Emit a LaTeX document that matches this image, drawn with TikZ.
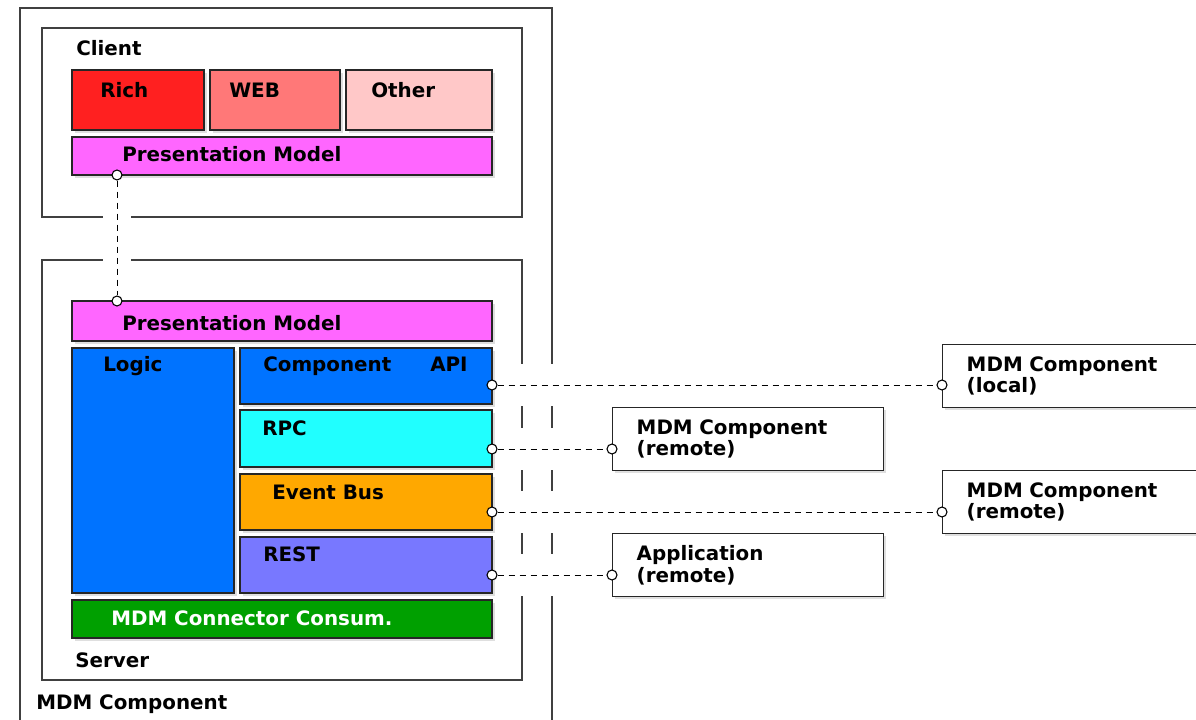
\documentclass[tikz,border=0pt]{standalone}
\usepackage{fontspec}
\setmainfont{DejaVu Sans}
\usetikzlibrary{positioning, fit, shadows}

\definecolor{richred}{HTML}{FF2020}
\definecolor{webred}{HTML}{FF7878}
\definecolor{otherpink}{HTML}{FFC8C8}
\definecolor{presmagenta}{HTML}{FF66FF}
\definecolor{logicblue}{HTML}{0073FF}
\definecolor{rpccyan}{HTML}{20FFFF}
\definecolor{busorange}{HTML}{FFA800}
\definecolor{restviolet}{HTML}{7878FF}
\definecolor{consumgreen}{HTML}{00A000}

\pgfdeclarelayer{background}
\pgfsetlayers{background,main}

\tikzset{
    frame/.style={draw=black!75, line width=1pt, inner sep=0pt},
    part/.style={draw=black!85, line width=1.1pt, inner sep=0pt,
        drop shadow={shadow xshift=2pt, shadow yshift=-2pt, opacity=0.25}},
    ext/.style={draw=black!85, line width=1.1pt, anchor=north west, fill=white,
        minimum height=47.25pt, text width=167.25pt, inner xsep=18pt, align=left,
        font=\bfseries\fontsize{14.9}{16}\selectfont,
        drop shadow={shadow xshift=2pt, shadow yshift=-2pt, opacity=0.25}},
    txt/.style={anchor=base west, inner sep=0pt, font=\bfseries\fontsize{14.9}{16}\selectfont},
    port/.style={circle, draw, fill=white, inner sep=0pt, minimum size=7.5pt, line width=0.8pt},
    link/.style={dash pattern=on 4.5pt off 3.75pt, line width=0.75pt},
    halo/.style={draw=white, line width=#1}
}

\begin{document}
\begin{tikzpicture}[x=0.75pt,y=0.75pt,yscale=-1,xscale=1]
        \useasboundingbox (0,0) rectangle (1196,720);

        % Client parts
        \node[part, fill=richred, fit={(72,70) (204,130)}] (rich) {};
        \node[part, fill=webred, fit={(210,70) (340,130)}] (web) {};
        \node[part, fill=otherpink, fit={(346,70) (492,130)}] (other) {};
        \node[part, fill=presmagenta, fit={(72,137) (492,175)}] (pmclient) {};

        % Server parts
        \node[part, fill=presmagenta, fit={(72,301) (492,341)}] (pmserver) {};
        \node[part, fill=logicblue, fit={(72,348) (234,593)}] (logic) {};
        \node[part, fill=logicblue, fit={(240,348) (492,404)}] (api) {};
        \node[part, fill=rpccyan, fit={(240,410) (492,467)}] (rpc) {};
        \node[part, fill=busorange, fit={(240,474) (492,530)}] (bus) {};
        \node[part, fill=restviolet, fit={(240,537) (492,593)}] (rest) {};
        \node[part, fill=consumgreen, fit={(72,600) (492,638)}] (consum) {};

        % Outside components
        \node[ext] (local) at (942,344) {MDM Component\\(local)};
        \node[ext] (remotea) at (612,407) {MDM Component\\(remote)};
        \node[ext] (remoteb) at (942,470) {MDM Component\\(remote)};
        \node[ext] (app) at (612,533) {Application\\(remote)};

        % Labels
        \node[txt] (tclient) at (76,56) {Client};
        \node[txt] (trich) at (100,98) {Rich};
        \node[txt] (tweb) at (229,98) {WEB};
        \node[txt] (tother) at (371,98) {Other};
        \node[txt] (tpmclient) at (122,162) {Presentation Model};
        \node[txt] (tpmserver) at (122,330) {Presentation Model};
        \node[txt] (tlogic) at (103,372) {Logic};
        \node[txt] (tcomp) at (263,372) {Component};
        \node[txt] (tapi) at (430,372) {API};
        \node[txt] (trpc) at (262,435) {RPC};
        \node[txt] (tbus) at (272,499) {Event Bus};
        \node[txt] (trest) at (263,561) {REST};
        \node[txt, text=white] (tconsum) at (111,625) {MDM Connector Consum.};
        \node[txt] (tserver) at (75,667) {Server};
        \node[txt] (tmdm) at (36,709) {MDM Component};

        % Ports
        \node[port] (pcl) at (117,175) {};
        \node[port] (psv) at (117,301) {};
        \node[port] (papi) at (492,385) {};
        \node[port] (plocal) at (942,385) {};
        \node[port] (prpc) at (492,449) {};
        \node[port] (prema) at (612,449) {};
        \node[port] (pbus) at (492,512) {};
        \node[port] (premb) at (942,512) {};
        \node[port] (prest) at (492,575) {};
        \node[port] (papp) at (612,575) {};

        % Links
        \draw[link] (pcl) -- (psv);
        \draw[link] (papi) -- (plocal);
        \draw[link] (prpc) -- (prema);
        \draw[link] (pbus) -- (premb);
        \draw[link] (prest) -- (papp);

        % Containers, cut open where the links cross
        \begin{pgfonlayer}{background}
            \node[frame, fit={(20,8) (552,740)}] (mdm) {};
            \node[frame, fit={(42,28) (522,217)}] (client) {};
            \node[frame, fit={(42,260) (522,680)}] (server) {};
            \draw[halo=21pt] (pcl.center) -- (psv.center);
            \draw[halo=31.5pt] (papi.center) -- (plocal.center);
            \draw[halo=31.5pt] (prpc.center) -- (prema.center);
            \draw[halo=31.5pt] (pbus.center) -- (premb.center);
            \draw[halo=31.5pt] (prest.center) -- (papp.center);
        \end{pgfonlayer}
\end{tikzpicture}
\end{document}
